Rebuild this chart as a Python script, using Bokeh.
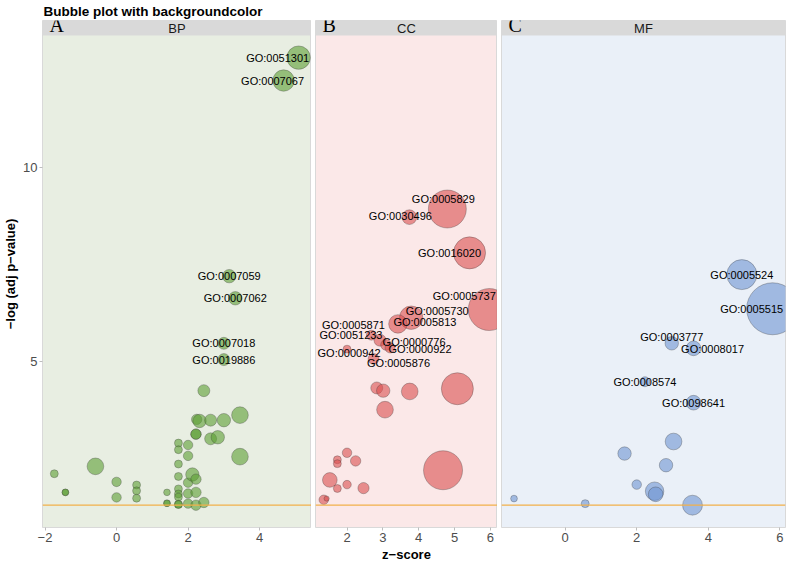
import numpy as np
from bokeh.plotting import figure
from bokeh.models import (ColumnDataSource, Range1d, FixedTicker, BoxAnnotation,
                          Span, Label, Title)
from bokeh.layouts import row
from bokeh.embed import file_html
from bokeh.resources import INLINE
from bokeh.core.properties import value

# ---------------- data ----------------
TITLE = "Bubble plot with backgroundcolor"
CATEGORIES = ["BP", "CC", "MF"]
PANEL_LETTERS = ["A", "B", "C"]
X_LABEL = "z\u2212score"
Y_LABEL = "\u2212log (adj p\u2212value)"
Y_TICKS = [5, 10]
X_TICKS = {"BP": [-2, 0, 2, 4], "CC": [2, 3, 4, 5, 6], "MF": [0, 2, 4, 6]}
THRESHOLD = 1.30103  # -log10(0.05)

bp_term = ["GO:0051301", "GO:0007067", "GO:0007059", "GO:0007062", "GO:0007018", "GO:0019886",
           "", "", "", "", "", "", "", "", "", "", "", "", "", "", "", "", "", "", "", "",
           "", "", "", "", "", "", "", "", "", "", "", "", "", "", "", "", "", "", "", "", "", ""]
bp_zscore = [5.09, 4.67, 3.15, 3.32, 3.00, 3.00,
             -1.74, -1.43, -1.43, -0.59, 0.00, 0.00, 0.56, 0.56, 0.56, 1.41, 1.41, 1.41,
             1.73, 1.73, 1.73, 1.73, 1.73, 1.73, 1.73, 1.73, 1.73,
             2.00, 2.00, 2.00, 2.00, 2.00, 2.12, 2.22, 2.22, 2.22, 2.24, 2.32, 2.22, 2.22,
             2.44, 2.44, 2.63, 2.63, 2.83, 3.00, 3.45, 3.45]
bp_logp = [12.83, 12.24, 7.20, 6.63, 5.47, 5.05,
           2.11, 1.63, 1.63, 2.30, 1.90, 1.50, 1.82, 1.67, 1.48, 1.63, 1.35, 1.35,
           2.90, 2.73, 2.36, 2.04, 1.72, 1.59, 1.51, 1.32, 1.32,
           2.85, 2.57, 1.88, 1.60, 1.34, 2.09, 1.97, 1.63, 1.30, 3.51, 3.47, 3.13, 3.13,
           4.25, 1.37, 3.49, 3.01, 3.05, 3.49, 3.62, 2.55]
bp_count = [61, 51, 20, 20, 16, 16,
            7, 5, 5, 31, 10, 10, 7, 7, 7, 5, 5, 5,
            7, 7, 7, 7, 7, 7, 7, 7, 7,
            10, 10, 10, 10, 10, 20, 12, 12, 12, 12, 20, 12, 12,
            16, 12, 16, 16, 20, 20, 31, 31]

cc_term = ["GO:0005829", "GO:0030496", "GO:0016020", "GO:0005737", "GO:0005730", "GO:0005813",
           "GO:0005871", "GO:0051233", "GO:0000776", "GO:0000922", "GO:0000942", "GO:0005876",
           "", "", "", "", "", "", "", "", "", "", "", "", "", "", "", ""]
cc_zscore = [4.80, 3.74, 5.42, 5.97, 3.79, 3.42,
             2.68, 2.92, 3.09, 3.20, 2.00, 2.74,
             2.83, 3.01, 3.06, 3.75, 5.08, 4.68, 2.00, 1.73, 1.73, 2.24, 1.52, 1.73,
             2.00, 2.46, 1.35, 1.43]
cc_logp = [8.93, 8.72, 7.80, 6.34, 6.13, 5.97,
           5.68, 5.55, 5.43, 5.35, 5.32, 5.07,
           4.32, 4.25, 3.76, 4.23, 4.30, 2.20, 2.65, 2.47, 2.37, 2.44, 1.95, 1.73,
           1.83, 1.74, 1.44, 1.47]
cc_count = [160, 24, 114, 196, 61, 38,
            11, 16, 13, 11, 7, 13,
            16, 20, 31, 31, 114, 169, 10, 7, 7, 12, 24, 7,
            8, 14, 10, 3]

mf_term = ["GO:0005524", "GO:0005515", "GO:0003777", "GO:0008017", "GO:0008574", "GO:0098641",
           "", "", "", "", "", "", "", "", ""]
mf_zscore = [4.94, 5.80, 2.98, 3.59, 2.23, 3.59,
             3.03, 1.66, 2.82, 2.00, 2.50, 2.53, -1.43, 0.56, 3.56]
mf_logp = [7.24, 6.36, 5.47, 5.34, 4.48, 3.94,
           2.94, 2.63, 2.33, 1.83, 1.66, 1.58, 1.47, 1.34, 1.30]
mf_count = [100, 300, 20, 24, 11, 24,
            31, 20, 20, 10, 38, 24, 5, 7, 44]

# ---------------- layout / style ----------------
LABEL_OFFSETS = {  # screen pixels (dx, dy), like ggrepel nudges
    "GO:0051301": (-21, 0), "GO:0007067": (-11, 0),
    "GO:0005829": (-4, -10), "GO:0030496": (-9, -1), "GO:0016020": (-20, 0),
    "GO:0005737": (-25, -14), "GO:0005730": (26, -7), "GO:0005813": (27, -2),
    "GO:0005871": (-18, -10), "GO:0051233": (-29, -5), "GO:0000776": (28, -3),
    "GO:0000922": (30, 1), "GO:0000942": (2, 4), "GO:0005876": (25, 4),
    "GO:0005515": (-21, 0), "GO:0003777": (0, -6), "GO:0008017": (19, 1),
}
X_RANGES = {"BP": (-2.07, 5.45), "CC": (1.12, 6.20), "MF": (-1.78, 6.16)}
PANEL_BG = {"BP": "#E8EEE2", "CC": "#FBE8E8", "MF": "#EAF0F8"}
FILL = {"BP": "#5C9E34", "CC": "#DB4F4F", "MF": "#6E94D2"}
FONT = "Liberation Sans"
Y_BOTTOM, Y_PANEL_TOP = 0.725, 13.4
FRAME_H = 507
STRIP_PX = 15
TOTAL_FRAME_W = 734

y_top = Y_PANEL_TOP + STRIP_PX * (Y_PANEL_TOP - Y_BOTTOM) / (FRAME_H - STRIP_PX)
y_range = Range1d(Y_BOTTOM, y_top)

units = [X_RANGES[c][1] - X_RANGES[c][0] for c in CATEGORIES]
frame_ws = [int(round(TOTAL_FRAME_W * u / sum(units))) for u in units]

data = {
    "BP": (bp_term, bp_zscore, bp_logp, bp_count),
    "CC": (cc_term, cc_zscore, cc_logp, cc_count),
    "MF": (mf_term, mf_zscore, mf_logp, mf_count),
}

figs = []
for i, cat in enumerate(CATEGORIES):
    term, z, lp, cnt = data[cat]
    lo, hi = X_RANGES[cat]
    p = figure(frame_width=frame_ws[i], frame_height=FRAME_H,
               x_range=Range1d(lo, hi), y_range=y_range,
               output_backend="svg", toolbar_location=None,
               y_axis_location="left" if i == 0 else None,
               min_border=0)
    p.min_border_top = 20
    p.min_border_left = 0 if i == 0 else 4
    p.min_border_right = 3 if i == 2 else 0
    p.background_fill_color = PANEL_BG[cat]
    p.border_fill_color = "white"
    p.outline_line_color = "#D9D9D9"
    p.grid.visible = False

    # axes
    for ax in p.axis:
        ax.axis_line_color = None
        ax.major_tick_line_color = "#BDBDBD"
        ax.major_tick_in = 0
        ax.major_tick_out = 3
        ax.minor_tick_line_color = None
        ax.major_label_text_font = FONT
        ax.major_label_text_font_size = "13px"
        ax.major_label_text_color = "#4D4D4D"
        ax.major_label_standoff = 2
        ax.axis_label_text_font = FONT
        ax.axis_label_text_font_size = "13px"
        ax.axis_label_text_font_style = "bold"
        ax.axis_label_text_color = "black"
        ax.axis_label_standoff = 2
    p.xaxis.ticker = FixedTicker(ticks=X_TICKS[cat])
    p.xaxis.major_label_overrides = {t: str(t).replace("-", "\u2212") for t in X_TICKS[cat] if t < 0}
    if i == 0:
        p.yaxis.ticker = FixedTicker(ticks=Y_TICKS)
        p.yaxis.axis_label = Y_LABEL
        p.add_layout(Title(text=TITLE, text_font=FONT, text_font_size="13.5px",
                           text_font_style="bold", text_color="black",
                           align="left", standoff=3, offset=1),
                     "above")
    if i == 1:
        p.xaxis.axis_label = X_LABEL

    # strip
    p.add_layout(BoxAnnotation(bottom=Y_PANEL_TOP, fill_color="#D9D9D9", fill_alpha=1.0,
                               line_color=None))
    p.add_layout(Label(x=(lo + hi) / 2, y=(Y_PANEL_TOP + y_top) / 2, text=cat,
                       text_font=FONT, text_font_size="13px", text_color="#1A1A1A",
                       text_align="center", text_baseline="middle"))
    p.add_layout(Label(x=lo, y=Y_PANEL_TOP, x_offset=7, text=PANEL_LETTERS[i],
                       text_font="Liberation Serif", text_font_size="20px",
                       text_color="black", text_align="left", text_baseline="bottom"))

    # threshold line
    p.add_layout(Span(location=THRESHOLD, dimension="width", line_color="#F2B04A",
                      line_width=1.2))

    # bubbles
    src = ColumnDataSource(dict(z=z, logp=lp, count=cnt,
                                size=[3.0 * np.sqrt(c) for c in cnt], term=term))
    p.scatter(x="z", y="logp", size="size", source=src, marker="circle",
              fill_color=FILL[cat], fill_alpha=0.6,
              line_color="#3A3A3A", line_alpha=0.4, line_width=0.8)

    # labels
    idx = [k for k, t in enumerate(term) if t]
    lsrc = ColumnDataSource(dict(
        z=[z[k] for k in idx], logp=[lp[k] for k in idx], term=[term[k] for k in idx],
        dx=[LABEL_OFFSETS.get(term[k], (0, 0))[0] for k in idx],
        dy=[LABEL_OFFSETS.get(term[k], (0, 0))[1] for k in idx]))
    p.text(x="z", y="logp", text="term", x_offset="dx", y_offset="dy", source=lsrc,
           text_font=value(FONT), text_font_size=value("11px"), text_color="black",
           text_align="center", text_baseline="middle")
    figs.append(p)

layout = row(*figs)
open("out.html", "w").write(file_html(layout, INLINE))
